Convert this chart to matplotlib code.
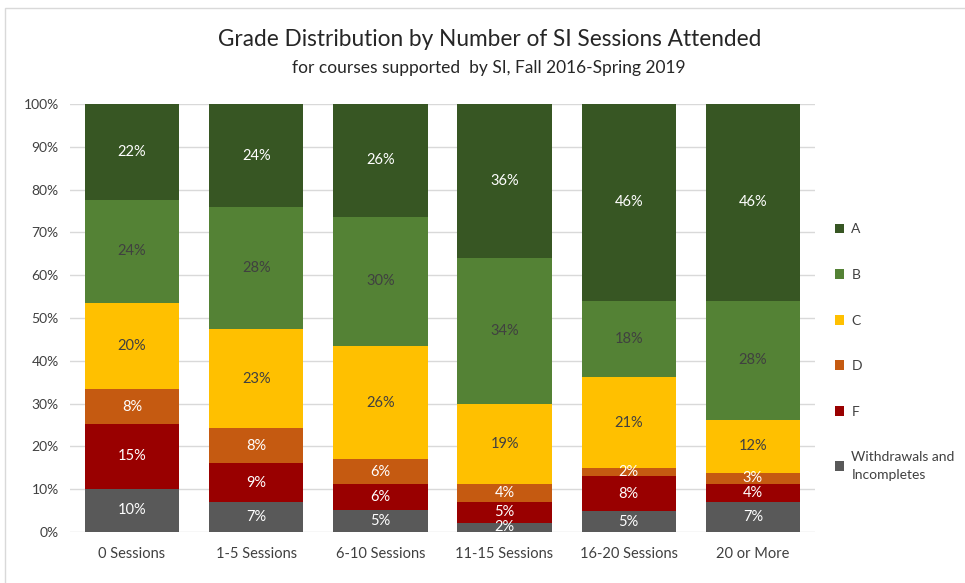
import matplotlib.pyplot as plt
import numpy as np
from matplotlib.patches import Rectangle

plt.rcParams['font.family'] = ['Lato', 'DejaVu Sans']

categories = ["0 Sessions", "1-5 Sessions", "6-10 Sessions", "11-15 Sessions", "16-20 Sessions", "20 or More"]
withdrawals = [10.1, 7.0, 5.1, 2.1, 4.9, 7.1]
grade_f = [15.1, 9.1, 6.0, 5.0, 8.1, 4.0]
grade_d = [8.1, 8.1, 6.0, 4.0, 1.9, 2.8]
grade_c = [20.2, 23.3, 26.3, 18.9, 21.3, 12.3]
grade_b = [24.1, 28.4, 30.3, 34.0, 17.8, 27.8]
grade_a = [22.4, 24.1, 26.3, 36.0, 46.0, 46.0]

series = [
    ("Withdrawals and\nIncompletes", withdrawals, "#595959", "white"),
    ("F", grade_f, "#990000", "white"),
    ("D", grade_d, "#C55A11", "white"),
    ("C", grade_c, "#FFC000", "#404040"),
    ("B", grade_b, "#548235", "#404040"),
    ("A", grade_a, "#375623", "white"),
]

fig = plt.figure(figsize=(9.65, 5.83), dpi=100)
ax = fig.add_axes([0.0725, 0.0875, 0.772, 0.734])

x = np.arange(len(categories))
bottom = np.zeros(len(categories))
handles = []
for name, vals, color, tcolor in series:
    vals = np.array(vals)
    bars = ax.bar(x, vals, 0.76, bottom=bottom, color=color, label=name, zorder=2)
    handles.append(bars)
    for xi, b, v in zip(x, bottom, vals):
        ax.text(xi, b + v / 2, f"{v:.0f}%", ha='center', va='center',
                color=tcolor, fontsize=10.5, zorder=3)
    bottom += vals

ax.set_xlim(-0.5, len(categories) - 0.5)
ax.set_ylim(0, 100)
ax.set_yticks(np.arange(0, 101, 10))
ax.set_yticklabels([f"{t}%" for t in range(0, 101, 10)], fontsize=10, color='#404040')
ax.set_xticks(x)
ax.set_xticklabels(categories, fontsize=10.5, color='#404040')
ax.tick_params(axis='y', length=0, pad=8)
ax.tick_params(axis='x', length=0, pad=11)
ax.yaxis.grid(True, color='#d9d9d9', linewidth=1, zorder=0)
for s in ax.spines.values():
    s.set_visible(False)

leg = fig.legend(handles[::-1], [s[0] for s in series][::-1],
                 loc='center left', bbox_to_anchor=(0.852, 0.396),
                 frameon=False, fontsize=10, handlelength=0.7, handleheight=0.7,
                 handletextpad=0.5, labelspacing=2.42)
for t in leg.get_texts():
    t.set_color('#404040')
    t.set_linespacing(1.55)

fig.text(0.507, 0.932, "Grade Distribution by Number of SI Sessions Attended",
         ha='center', va='center', fontsize=16.3, color='#262626')
fig.text(0.507, 0.884, "for courses supported  by SI, Fall 2016-Spring 2019",
         ha='center', va='center', fontsize=12.5, color='#262626')

fig.patches.append(Rectangle((0.005, -0.02), 1.1, 1.006, transform=fig.transFigure,
                             fill=False, edgecolor='#d9d9d9', linewidth=1))

fig.savefig("out.png", dpi=100)
